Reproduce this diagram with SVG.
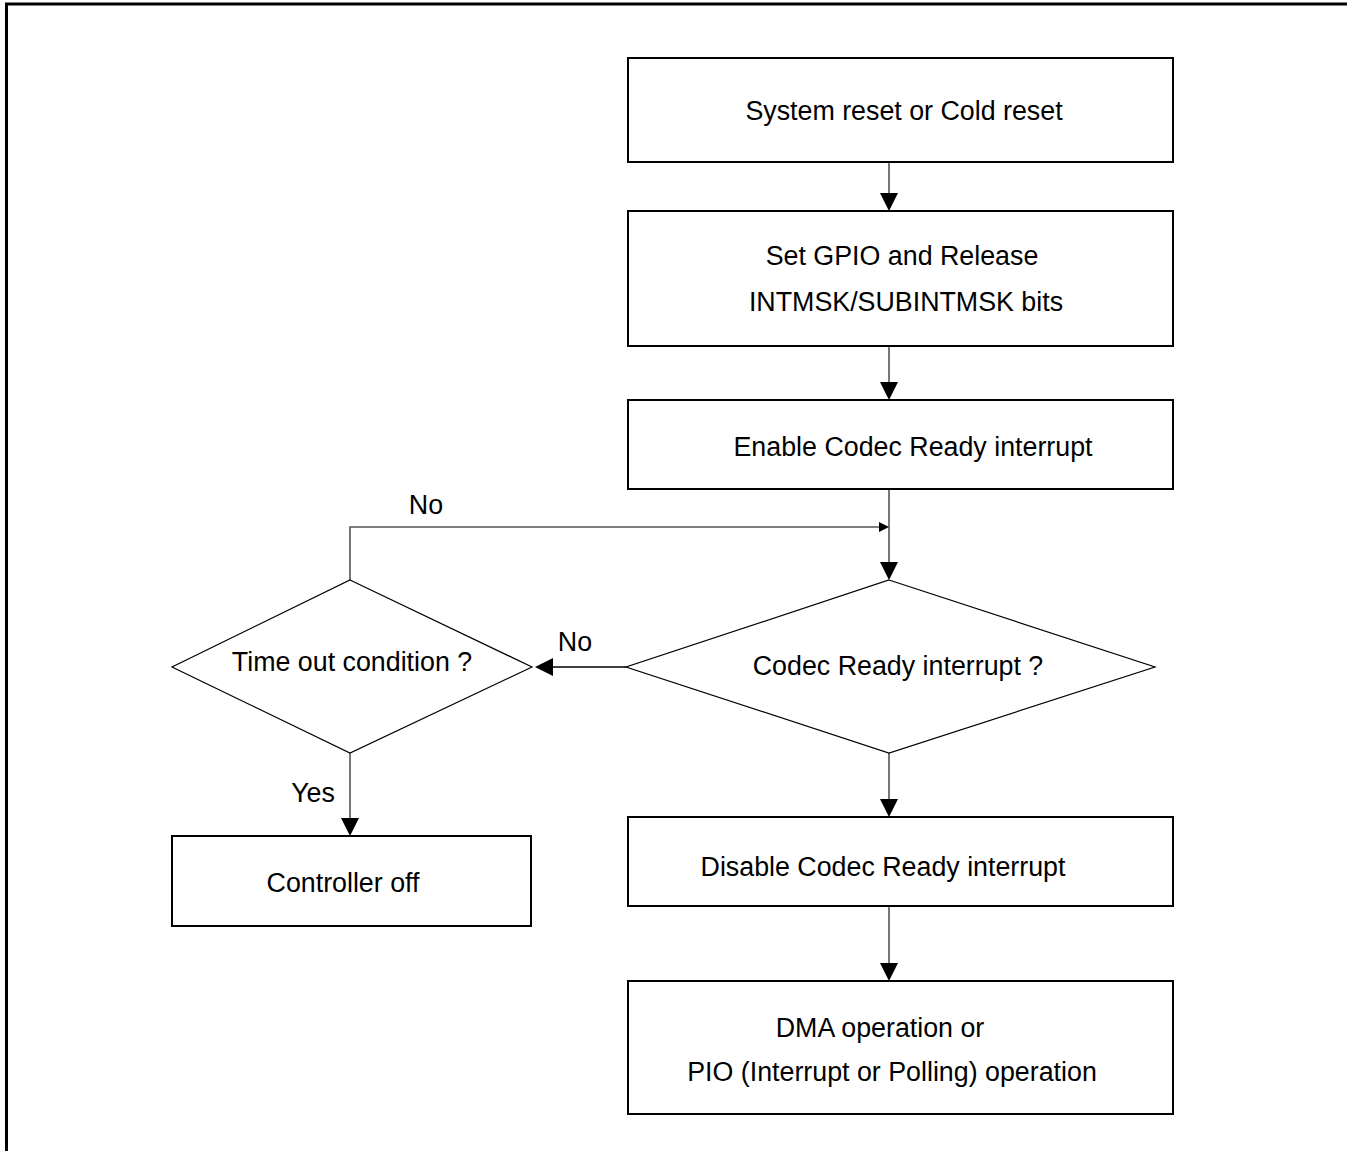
<svg xmlns="http://www.w3.org/2000/svg" width="1347" height="1151" viewBox="0 0 1347 1151">
<style>
.box{fill:#fff;stroke:#000;stroke-width:2}
.dia{fill:#fff;stroke:#000;stroke-width:1.2}
.t{font-family:"Liberation Sans",Arial,sans-serif;font-size:26.8px;fill:#000;text-anchor:middle}
.c{fill:none;stroke:#555;stroke-width:1.6}
.ah{fill:#000}
</style>
<rect width="1347" height="1151" fill="#fff"/>
<path d="M6.5,1151 V4 H1347" fill="none" stroke="#000" stroke-width="3"/>
<g id="connectors">
<line class="c" x1="889" y1="162" x2="889" y2="195"/>
<polygon class="ah" points="880,193 898,193 889,211"/>
<line class="c" x1="889" y1="346" x2="889" y2="384"/>
<polygon class="ah" points="880,382 898,382 889,400"/>
<line class="c" x1="889" y1="489" x2="889" y2="564"/>
<polygon class="ah" points="880,562 898,562 889,580"/>
<polyline class="c" points="350,580 350,527 881,527"/>
<polygon class="ah" points="879,522 889,527 879,532"/>
<line class="c" x1="626" y1="667" x2="550" y2="667" style="stroke:#000"/>
<polygon class="ah" points="553,658 553,676 535,667"/>
<line class="c" x1="350" y1="753" x2="350" y2="820"/>
<polygon class="ah" points="341,818 359,818 350,836"/>
<line class="c" x1="889" y1="753" x2="889" y2="801"/>
<polygon class="ah" points="880,799 898,799 889,817"/>
<line class="c" x1="889" y1="906" x2="889" y2="965"/>
<polygon class="ah" points="880,963 898,963 889,981"/>
<text class="t" x="426" y="514">No</text>
<text class="t" x="575" y="651">No</text>
<text class="t" x="313" y="802">Yes</text>
</g>
<g id="n1"><rect class="box" x="628" y="58" width="545" height="104"/><text class="t" x="904" y="120">System reset or Cold reset</text></g>
<g id="n2"><rect class="box" x="628" y="211" width="545" height="135"/><text class="t" x="902" y="265">Set GPIO and Release</text><text class="t" x="906" y="311">INTMSK/SUBINTMSK bits</text></g>
<g id="n3"><rect class="box" x="628" y="400" width="545" height="89"/><text class="t" x="913" y="456">Enable Codec Ready interrupt</text></g>
<g id="d1"><polygon class="dia" points="889,580 1155,667 889,753 626,667"/><text class="t" x="898" y="675">Codec Ready interrupt ?</text></g>
<g id="d2"><polygon class="dia" points="350,580 532,667 350,753 172,667"/><text class="t" x="352" y="671">Time out condition ?</text></g>
<g id="n4"><rect class="box" x="172" y="836" width="359" height="90"/><text class="t" x="343" y="892">Controller off</text></g>
<g id="n5"><rect class="box" x="628" y="817" width="545" height="89"/><text class="t" x="883" y="876">Disable Codec Ready interrupt</text></g>
<g id="n6"><rect class="box" x="628" y="981" width="545" height="133"/><text class="t" x="880" y="1037">DMA operation or</text><text class="t" x="892" y="1081">PIO (Interrupt or Polling) operation</text></g>
</svg>
